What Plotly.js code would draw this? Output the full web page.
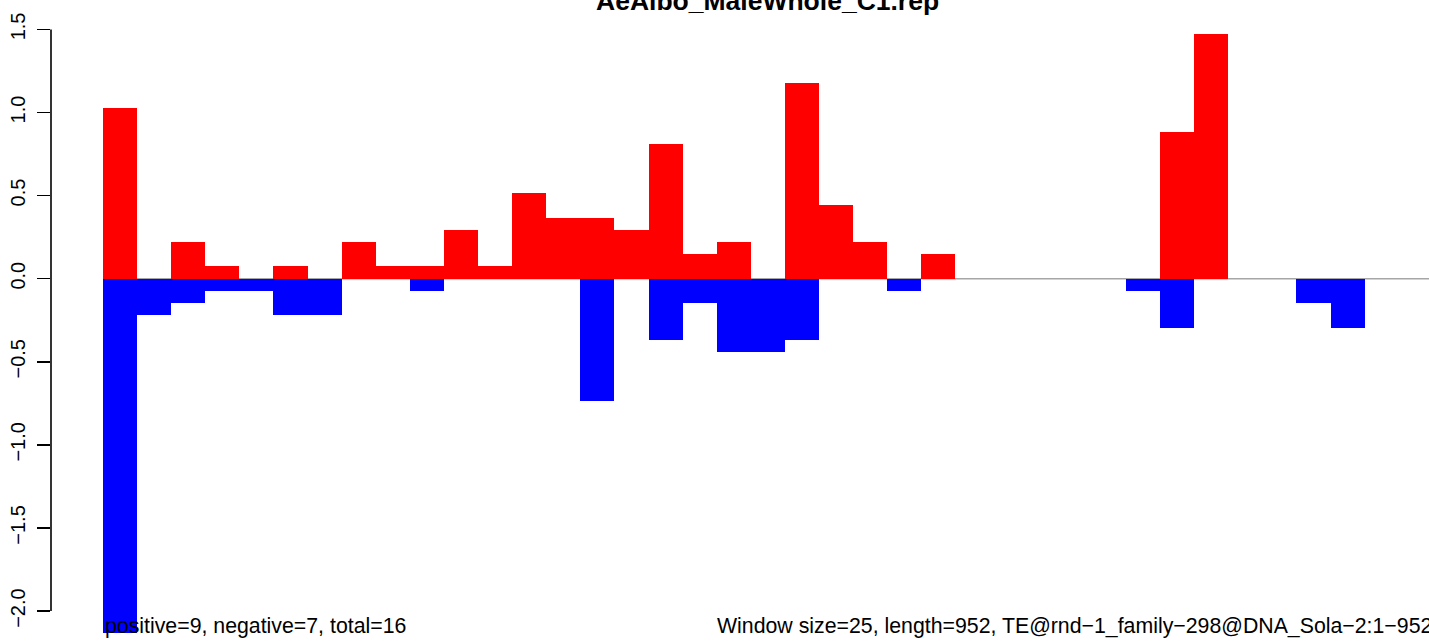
<!DOCTYPE html>
<html>
<head>
<meta charset="utf-8">
<script src="https://cdn.plot.ly/plotly-3.0.1.min.js"></script>
<style>html,body{margin:0;padding:0;background:#fff;}#chart{width:1429px;height:641px;}</style>
</head>
<body>
<div id="chart"></div>
<script>
// ---- data ----
const chartTitle = "AeAlbo_MaleWhole_C1.rep";
const windowSize = 25;
const seqLength = 952;
const windowStarts = [0,25,50,75,100,125,150,175,200,225,250,275,300,325,350,375,400,425,450,475,
                      500,525,550,575,600,625,650,675,700,725,750,775,800,825,850,875,900,925];
const positiveValues = [1.029,0,0.221,0.074,0,0.074,0,0.221,0.074,0.074,0.294,0.074,0.515,0.368,0.368,0.294,0.809,0.147,0.221,0,
                        1.176,0.441,0.221,0,0.147,0,0,0,0,0,0,0.882,1.471,0,0,0,0,0];
const negativeValues = [-2.132,-0.221,-0.147,-0.074,-0.074,-0.221,-0.221,0,0,-0.074,0,0,0,0,-0.735,0,-0.368,-0.147,-0.441,-0.441,
                        -0.368,0,0,-0.074,0,0,0,0,0,0,-0.074,-0.294,0,0,0,-0.147,-0.294,0];
const yTickValues = [-2.0,-1.5,-1.0,-0.5,0.0,0.5,1.0,1.5];
const yTickLabels = ["\u22122.0","\u22121.5","\u22121.0","\u22120.5","0.0","0.5","1.0","1.5"];
const leftNote = "positive=9, negative=7, total=16";
const rightNote = "Window size=25, length=952, TE@rnd\u22121_family\u2212298@DNA_Sola\u22122:1\u2212952";

// ---- chart ----
const FONT = "Liberation Sans, Arial, Helvetica, sans-serif";
const traces = [
  {type:'bar', x:windowStarts, y:positiveValues, offset:0, width:windowSize,
   marker:{color:'#ff0000', line:{width:0}}, hoverinfo:'x+y', showlegend:false},
  {type:'bar', x:windowStarts, y:negativeValues, offset:0, width:windowSize,
   marker:{color:'#0000ff', line:{width:0}}, hoverinfo:'x+y', showlegend:false}
];

const layout = {
  width:1429, height:641,
  margin:{l:51, r:0, t:10, b:0, pad:0},
  paper_bgcolor:'#ffffff', plot_bgcolor:'#ffffff',
  barmode:'overlay', bargap:0,
  font:{family:FONT, color:'#000'},
  xaxis:{range:[-38.08, 972.2], visible:false, showgrid:false, zeroline:false, fixedrange:true},
  yaxis:{range:[-2.18, 1.6167], tickvals:yTickValues, ticktext:yTickLabels,
         ticks:'outside', ticklen:13, tickwidth:1.6, tickcolor:'#000',
         showline:false, showgrid:false, zeroline:false, tickangle:-90,
         tickfont:{family:FONT, size:20, color:'#000'}, ticklabelstandoff:4, fixedrange:true},
  shapes:[
    {type:'line', xref:'x', yref:'y', x0:0, x1:seqLength + 2*windowSize, y0:0, y1:0,
     line:{color:'#a6a6a6', width:1.6}, layer:'below'},
    {type:'line', xref:'paper', yref:'y', x0:0, x1:0,
     y0:yTickValues[0], y1:yTickValues[yTickValues.length-1],
     line:{color:'#000', width:1.6}}
  ],
  annotations:[
    {text:chartTitle, xref:'paper', yref:'paper', x:0.5203, y:1.0135, xanchor:'center', yanchor:'middle',
     showarrow:false, font:{family:FONT, size:26.5, weight:'bold', color:'#000'}},
    {text:leftNote, xref:'x', yref:'paper', x:0, y:0.0238, xanchor:'left', yanchor:'middle',
     showarrow:false, font:{family:FONT, size:21.3, color:'#000'}},
    {text:rightNote, xref:'paper', yref:'paper', x:(715-51)/1378, y:0.0238, xanchor:'left', yanchor:'middle',
     showarrow:false, font:{family:FONT, size:21.3, color:'#000'}}
  ]
};

Plotly.newPlot('chart', traces, layout, {displayModeBar:false, staticPlot:true});
</script>
</body>
</html>
